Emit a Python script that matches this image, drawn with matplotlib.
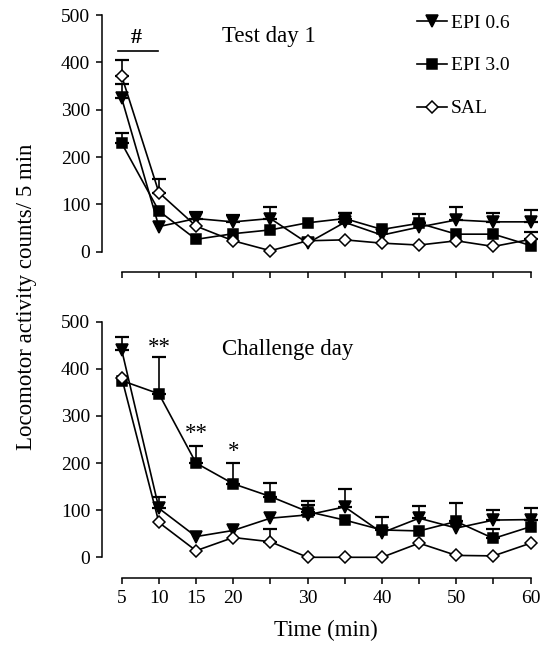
import matplotlib
matplotlib.use('Agg')
import matplotlib.pyplot as plt
import numpy as np

plt.rcParams['font.family'] = ['Liberation Serif', 'DejaVu Serif']

# ---------------- data ----------------
time_min = [5, 10, 15, 20, 25, 30, 35, 40, 45, 50, 55, 60]
xtick_labels = ['5', '10', '15', '20', '', '30', '', '40', '', '50', '', '60']
yticks = [0, 100, 200, 300, 400, 500]
series_labels = ['EPI 0.6', 'EPI 3.0', 'SAL']

# Test day 1 (means, upper SEM)
d1_epi06 = [324, 53, 70, 63, 70, 18, 62, 35, 52, 67, 63, 63]
d1_epi06_err = [30, 0, 14, 14, 25, 0, 20, 0, 0, 28, 18, 25]
d1_epi30 = [229, 86, 26, 38, 46, 61, 70, 47, 60, 37, 37, 13]
d1_epi30_err = [22, 0, 0, 0, 0, 0, 12, 0, 19, 0, 0, 0]
d1_sal = [371, 125, 54, 23, 2, 23, 25, 18, 14, 23, 11, 26]
d1_sal_err = [34, 28, 0, 0, 0, 0, 0, 0, 0, 0, 0, 16]

# Challenge day
cd_epi06 = [440, 104, 44, 57, 83, 90, 107, 52, 83, 62, 79, 80]
cd_epi06_err = [28, 23, 0, 0, 0, 22, 37, 0, 26, 0, 21, 25]
cd_epi30 = [375, 347, 200, 156, 129, 97, 79, 58, 56, 76, 40, 65]
cd_epi30_err = [0, 78, 37, 44, 29, 22, 0, 27, 0, 40, 20, 0]
cd_sal = [381, 74, 14, 42, 33, 0, 0, 0, 30, 4, 3, 30]
cd_sal_err = [0, 0, 0, 0, 28, 0, 0, 0, 0, 0, 0, 0]

# ---------------- figure ----------------
W, H = 548, 645
fig = plt.figure(figsize=(W / 100, H / 100), dpi=100)


def px_axes(left, top, right, bottom):
    return fig.add_axes([left / W, 1 - bottom / H, (right - left) / W, (bottom - top) / H])


ax1 = px_axes(102, 15, 541.8, 271.7)
ax2 = px_axes(102, 321.7, 541.8, 577.7)
ax1.set_ylim(-42.3, 500)
ax2.set_ylim(-43.3, 500)

styles = [
    dict(marker='v', ms=9, mfc='black'),
    dict(marker='s', ms=7.5, mfc='black'),
    dict(marker='D', ms=6.5, mfc='white'),
]


def draw(ax, vals, errs, style, label, z):
    x = np.array(time_min, float)
    v = np.array(vals, float)
    e = np.array(errs, float)
    m = e > 0
    if m.any():
        ax.errorbar(x[m], v[m], yerr=[np.zeros(m.sum()), e[m]], fmt='none',
                    ecolor='black', elinewidth=1.2, capsize=5, capthick=1.6,
                    zorder=z, clip_on=False)
    ax.plot(x, v, color='black', lw=1.2, mec='black', mew=1.1, label=label,
            zorder=z + 0.5, clip_on=False, **style)


for ax, data in [(ax1, [(d1_epi06, d1_epi06_err), (d1_epi30, d1_epi30_err), (d1_sal, d1_sal_err)]),
                 (ax2, [(cd_epi06, cd_epi06_err), (cd_epi30, cd_epi30_err), (cd_sal, cd_sal_err)])]:
    for i, ((vals, errs), st, lab) in enumerate(zip(data, styles, series_labels)):
        draw(ax, vals, errs, st, lab, 2 + i)


def style_ax(ax, show_labels):
    ax.set_xlim(2.35, 61.5)
    for s in ['top', 'right']:
        ax.spines[s].set_visible(False)
    ax.spines['left'].set_bounds(0, 500)
    ax.spines['bottom'].set_bounds(5, 60)
    for s in ['left', 'bottom']:
        ax.spines[s].set_linewidth(1.1)
    ax.set_yticks(yticks)
    ax.set_yticklabels([str(t) for t in yticks])
    ax.set_xticks(time_min)
    ax.set_xticklabels(xtick_labels if show_labels else [''] * len(time_min))
    ax.tick_params(axis='both', direction='out', length=4.5, width=1.1,
                   labelsize=14, pad=4)
    ax.patch.set_visible(False)


style_ax(ax1, False)
style_ax(ax2, True)

# annotations
ax1.text(7.0, 452, '#', fontweight='bold', fontsize=16, ha='center', va='center')
ax1.plot([4.5, 9.9], [423, 423], color='black', lw=1.2, clip_on=False)
ax1.text(18.45, 455, 'Test day 1', fontsize=16.5, ha='left', va='center')
ax2.text(18.45, 440, 'Challenge day', fontsize=16.5, ha='left', va='center')
ax2.text(10, 433, '**', fontsize=16.5, ha='center', va='baseline')
ax2.text(15, 252, '**', fontsize=16.5, ha='center', va='baseline')
ax2.text(20, 212, '*', fontsize=16.5, ha='center', va='baseline')

ax1.legend(loc='upper left', bbox_to_anchor=(416.7 / W, 1 - 14 / H),
           bbox_transform=fig.transFigure, frameon=False, fontsize=14,
           handlelength=1.55, handletextpad=0.2, labelspacing=1.3,
           borderpad=0, borderaxespad=0)

fig.text(27 / W, 1 - 297 / H, 'Locomotor activity counts/ 5 min', rotation=90,
         ha='center', va='center', fontsize=16.5)
fig.text(326 / W, 1 - 630 / H, 'Time (min)', ha='center', va='center', fontsize=16.5)

fig.savefig('out.png', dpi=100)
